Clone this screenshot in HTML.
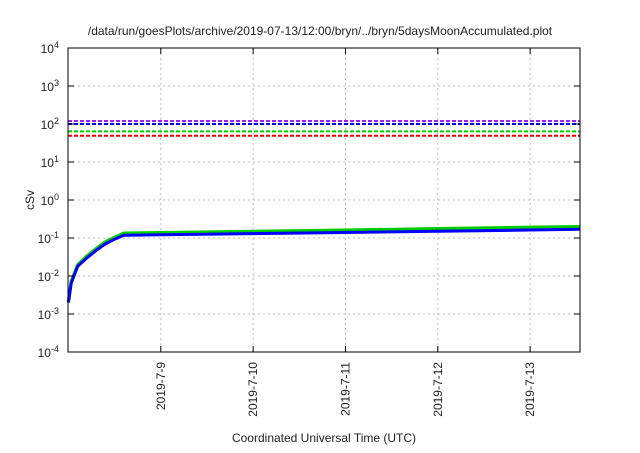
<!DOCTYPE html>
<html><head><meta charset="utf-8"><style>
body{margin:0;background:#fff;}
svg text{font-family:"Liberation Sans",sans-serif;fill:#222;}
</style></head><body>
<svg width="640" height="448" viewBox="0 0 640 448">
<text x="320" y="35" text-anchor="middle" font-size="12">/data/run/goesPlots/archive/2019-07-13/12:00/bryn/../bryn/5daysMoonAccumulated.plot</text>
<g id="grid"></g>
<g id="series"></g>
<rect x="68" y="48" width="512" height="304" fill="none" stroke="#000" stroke-width="1"/>
<g id="axes"></g>
<text x="34" y="200" text-anchor="middle" font-size="12" transform="rotate(-90 34 200)">cSv</text>
<text x="324" y="442" text-anchor="middle" font-size="12">Coordinated Universal Time (UTC)</text>
</svg>
<script>
const yTickExps=[-4,-3,-2,-1,0,1,2,3,4];
const xTickDays=[1,2,3,4,5];
const xTickLabels=["2019-7-9","2019-7-10","2019-7-11","2019-7-12","2019-7-13"];
const thresholdValues=[120,100,64,49];
const thresholdColors=["#a020f0","#0000ff","#00cc00","#ff0000"];
const days=[0,0.03,0.1,0.2,0.3,0.4,0.5,0.6,1,2,3,4,5,5.54];
const seriesRed=[0.0022,0.007,0.019,0.032,0.05,0.075,0.1,0.125,0.13,0.14,0.15,0.165,0.18,0.19];
const seriesGreen=[0.0024,0.0075,0.02,0.034,0.053,0.08,0.105,0.135,0.14,0.15,0.162,0.178,0.193,0.2];
const seriesPurple=[0.0022,0.007,0.019,0.032,0.05,0.075,0.1,0.125,0.13,0.14,0.15,0.163,0.178,0.185];
const seriesBlue=[0.002,0.0065,0.018,0.03,0.047,0.07,0.093,0.118,0.122,0.13,0.14,0.15,0.162,0.17];
const X0=68,X1=580,Y0=352,Y1=48;
const xMin=-0.005,xMax=5.54;
const xs=d=>X0+(d-xMin)/(xMax-xMin)*(X1-X0);
const ys=v=>Y0-(Math.log10(v)+4)/8*(Y0-Y1);
const NS="http://www.w3.org/2000/svg";
function mk(t,a,p){const e=document.createElementNS(NS,t);for(const k in a)e.setAttribute(k,a[k]);p.appendChild(e);return e;}
const grid=document.getElementById('grid'),axes=document.getElementById('axes'),ser=document.getElementById('series');
yTickExps.forEach(ex=>{
 const y=ys(Math.pow(10,ex));
 if(ex>-4&&ex<4){const g=mk('line',{x1:X0,x2:X1,y1:y,y2:y,stroke:'#bbb','stroke-dasharray':'2,3','stroke-width':1},grid);
 
 }
 const t1=mk('line',{x1:X0,x2:X0+6,y1:y,y2:y,stroke:'#000'},axes);
 
 
 const t2=mk('line',{x1:X1-6,x2:X1,y1:y,y2:y,stroke:'#000'},axes);
 
 
 const tx=mk('text',{x:59,y:y+5,'text-anchor':'end','font-size':12},axes);
 
 
 tx.textContent='10';
 const sp=mk('tspan',{dy:-5,'font-size':9},tx);sp.textContent=String(ex);
});
xTickDays.forEach((d,i)=>{
 const x=xs(d);
 const g=mk('line',{x1:x,x2:x,y1:Y1,y2:Y0,stroke:'#bbb','stroke-dasharray':'2,3'},grid);
 
 
 const t1=mk('line',{x1:x,x2:x,y1:Y0-6,y2:Y0,stroke:'#000'},axes);
 
 
 const t2=mk('line',{x1:x,x2:x,y1:Y1,y2:Y1+6,stroke:'#000'},axes);
 
 
 const tx=mk('text',{x:x+4,y:362,'text-anchor':'end','font-size':12,transform:`rotate(-90 ${x+4} 362)`},axes);
 
 
 tx.textContent=xTickLabels[i];
});
thresholdValues.forEach((v,i)=>{
 const y=ys(v);
 const l=mk('line',{x1:X0,x2:X1,y1:y,y2:y,stroke:thresholdColors[i],'stroke-width':2,'stroke-dasharray':'4,2'},ser);
 
 
});
[[seriesRed,'#ff0000'],[seriesPurple,'#a020f0'],[seriesGreen,'#00cc00'],[seriesBlue,'#0000ff']].forEach(([s,c])=>{
 const p=mk('polyline',{points:days.map((d,i)=>xs(d)+','+ys(s[i])).join(' '),fill:'none',stroke:c,'stroke-width':3,'stroke-linejoin':'round'},ser);
 
 
});
</script>
</body></html>
